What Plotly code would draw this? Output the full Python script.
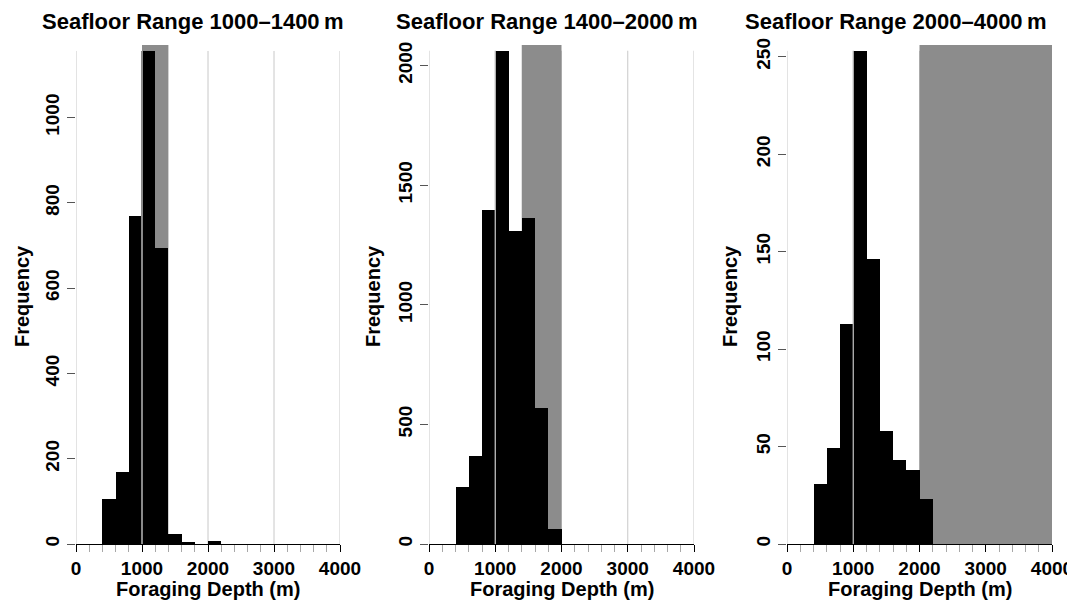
import plotly.graph_objects as go

# Histogram bins (left edges, m) - 200 m bins from 0 to 4000
bin_left = [0, 200, 400, 600, 800, 1000, 1200, 1400, 1600, 1800,
            2000, 2200, 2400, 2600, 2800, 3000, 3200, 3400, 3600, 3800]
bin_width = 200

# Counts
counts_1 = [0, 0, 105, 170, 770, 1156, 693, 23, 4, 0,
            6, 0, 0, 0, 0, 0, 0, 0, 0, 0]
counts_2 = [0, 0, 240, 366, 1395, 2062, 1307, 1364, 570, 61,
            0, 0, 0, 0, 0, 0, 0, 0, 0, 0]
counts_3 = [0, 0, 31, 49, 113, 253, 146, 58, 43, 38,
            23, 0, 0, 0, 0, 0, 0, 0, 0, 0]

titles = ["Seafloor Range 1000\u20131400\u2009m",
          "Seafloor Range 1400\u20132000\u2009m",
          "Seafloor Range 2000\u20134000\u2009m"]
seafloor = [(1000, 1400), (1400, 2000), (2000, 4000)]
y_top = [1170, 2086, 256]
y_dtick = [200, 500, 50]
grid_x = [0, 1000, 2000, 3000, 4000]
mark_x = 1000

# page body adds an 8px margin, so the figure sits at (8, 8)
OFF = 8
W, H = 1075 - OFF, 608 - OFF


def px(x):
    return (x - OFF) / W


def py(y):
    return 1 - (y - OFF) / H


x_dom_px = [(76, 340), (429, 694), (787, 1052)]
y_dom_px = (45, 544)
title_x_px = [193, 547, 896]
ylab_x_px = [22, 373, 730]
mark_style = [("#8a8a8a", 2), ("#d0d0d0", 1.2), ("#c8c8c8", 1.2)]

FONT = "Liberation Sans, Arial, sans-serif"

fig = go.Figure()
all_counts = [counts_1, counts_2, counts_3]

for i, counts in enumerate(all_counts):
    n = "" if i == 0 else str(i + 1)
    xa, ya = "x" + n, "y" + n

    fig.add_trace(go.Bar(
        x=bin_left, y=counts, width=bin_width, offset=0,
        marker=dict(color="black", line=dict(width=0)),
        xaxis=xa, yaxis=ya, showlegend=False,
    ))

    # grid lines up to the tallest bar
    for gx in grid_x:
        fig.add_shape(type="line", xref=xa, yref=ya, x0=gx, x1=gx, y0=0, y1=max(counts),
                      line=dict(color="#c8c8c8", width=1), layer="below")
    # seafloor range band
    lo, hi = seafloor[i]
    fig.add_shape(type="rect", xref=xa, yref=ya, x0=lo, x1=hi, y0=0, y1=y_top[i],
                  fillcolor="#8c8c8c", line=dict(width=0), layer="below")
    # marker line at 1000 m
    c, w = mark_style[i]
    fig.add_shape(type="line", xref=xa, yref=ya, x0=mark_x, x1=mark_x, y0=0, y1=max(counts),
                  line=dict(color=c, width=w), layer="above")

    x0, x1 = x_dom_px[i]
    fig.layout["xaxis" + n] = dict(
        domain=[px(x0), px(x1)], anchor=ya, range=[0, 4000], automargin=False,
        dtick=1000, tick0=0, ticks="outside", ticklen=7, tickcolor="black",
        minor=dict(dtick=200, ticks="outside", ticklen=7, tickcolor="#a8a8a8"),
        showline=True, linecolor="black", linewidth=1,
        showgrid=False, zeroline=False,
        tickfont=dict(family=FONT, size=19, color="black", weight="bold"),
    )
    fig.layout["yaxis" + n] = dict(
        domain=[py(y_dom_px[1]), py(y_dom_px[0])], anchor=xa,
        range=[0, y_top[i]], dtick=y_dtick[i], tick0=0, automargin=False,
        ticks="outside", ticklen=8, tickcolor="#555555", tickangle=-90,
        showline=False, showgrid=False, zeroline=False,
        tickfont=dict(family=FONT, size=19, color="black", weight="bold"),
    )

    fig.add_annotation(text=titles[i], xref="paper", yref="paper",
                       x=px(title_x_px[i]), y=py(22), showarrow=False,
                       xanchor="center", yanchor="middle",
                       font=dict(family=FONT, size=22, color="black", weight="bold"))
    fig.add_annotation(text="Foraging Depth (m)", xref="paper", yref="paper",
                       x=px((x0 + x1) / 2), y=py(589), showarrow=False,
                       xanchor="center", yanchor="middle",
                       font=dict(family=FONT, size=20, color="black", weight="bold"))
    fig.add_annotation(text="Frequency", xref="paper", yref="paper",
                       x=px(ylab_x_px[i]), y=py(296), showarrow=False, textangle=-90,
                       xanchor="center", yanchor="middle",
                       font=dict(family=FONT, size=20, color="black", weight="bold"))

fig.update_layout(
    width=W, height=H,
    margin=dict(l=0, r=0, t=0, b=0),
    paper_bgcolor="white", plot_bgcolor="white",
    bargap=0, showlegend=False,
)

fig.write_html("out.html")
